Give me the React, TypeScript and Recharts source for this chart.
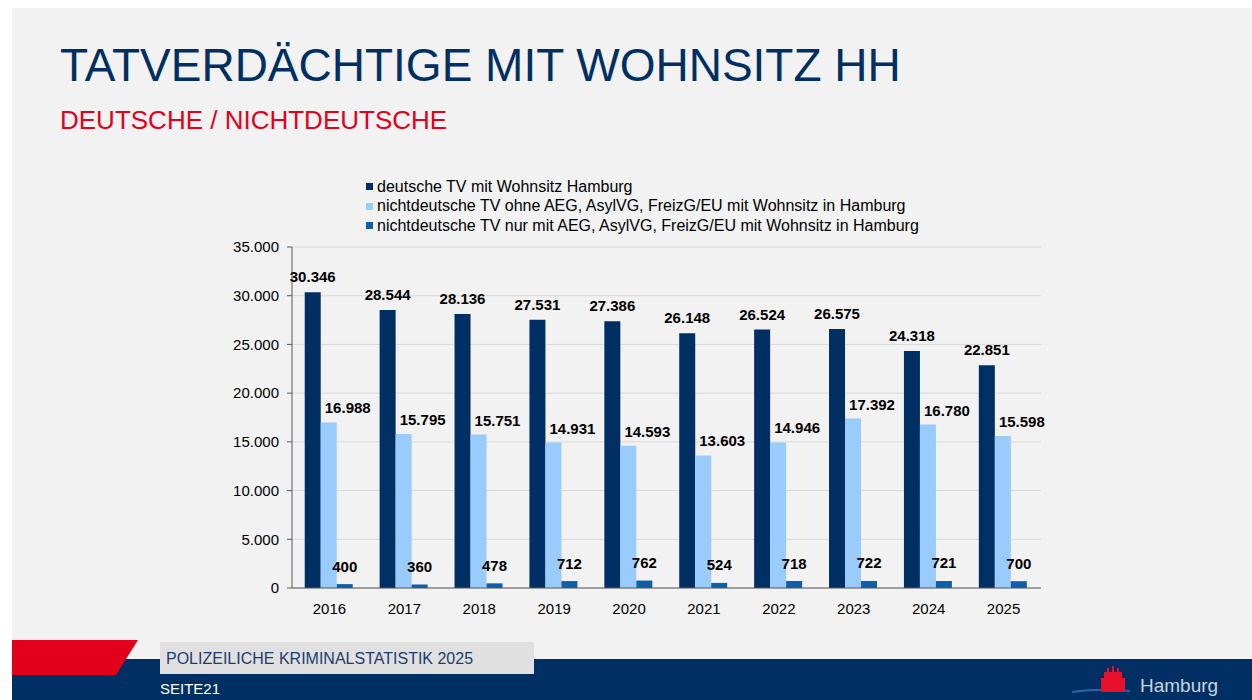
import React from 'react'
import { BarChart, Bar, XAxis, YAxis, CartesianGrid, Legend, LabelList } from 'recharts'

const years = ['2016', '2017', '2018', '2019', '2020', '2021', '2022', '2023', '2024', '2025']
const deutsche = [30346, 28544, 28136, 27531, 27386, 26148, 26524, 26575, 24318, 22851]
const nichtdeutscheOhne = [16988, 15795, 15751, 14931, 14593, 13603, 14946, 17392, 16780, 15598]
const nichtdeutscheNur = [400, 360, 478, 712, 762, 524, 718, 722, 721, 700]
const yTicks = [0, 5000, 10000, 15000, 20000, 25000, 30000, 35000]

const seriesNames = [
  'deutsche TV mit Wohnsitz Hamburg',
  'nichtdeutsche TV ohne AEG, AsylVG, FreizG/EU mit Wohnsitz in Hamburg',
  'nichtdeutsche TV nur mit AEG, AsylVG, FreizG/EU mit Wohnsitz in Hamburg',
]

const NAVY = '#002f63'
const LIGHT = '#99cbfd'
const MID = '#0f5ea8'
const RED = '#e2001a'
const FONT = '"Liberation Sans", Arial, sans-serif'

const data = years.map((year, i) => ({
  year,
  deutsche: deutsche[i],
  ohne: nichtdeutscheOhne[i],
  nur: nichtdeutscheNur[i],
}))

const fmt = (v: number) => String(v).replace(/\B(?=(\d{3})+(?!\d))/g, '.')

// labels sit a bit off the bars, as in the original slide
const makeLabel = (dx: number, lift: number) => (props: any) => {
  const vb = props.viewBox ?? props
  const x = Number(vb.x ?? props.x)
  const y = Number(vb.y ?? props.y)
  const w = Number(vb.width ?? props.width)
  return (
    <text
      x={x + w / 2 + dx}
      y={y - lift}
      textAnchor="middle"
      fontFamily={FONT}
      fontSize={15}
      fontWeight="bold"
      fill="#000"
    >
      {fmt(Number(props.value))}
    </text>
  )
}

const renderLegend = () => {
  const colors = [NAVY, LIGHT, MID]
  return (
    <div style={{ fontFamily: FONT, fontSize: 16, color: '#000' }}>
      {seriesNames.map((name, i) => (
        <div key={name} style={{ display: 'flex', alignItems: 'center', height: 19.5, whiteSpace: 'nowrap' }}>
          <span style={{ display: 'inline-block', width: 7, height: 7, background: colors[i], marginRight: 4 }} />
          {name}
        </div>
      ))}
    </div>
  )
}

export default function App() {
  return (
    <div
      style={{
        position: 'absolute',
        left: 0,
        top: 0,
        width: 1252,
        height: 700,
        background: '#fff',
        overflow: 'hidden',
        fontFamily: FONT,
      }}
    >
      <div style={{ position: 'absolute', left: 12, top: 8, width: 1240, height: 692, background: '#f2f2f2' }} />
      <div
        style={{
          position: 'absolute',
          left: 60,
          top: 38,
          fontSize: 46,
          color: NAVY,
          lineHeight: '54px',
          whiteSpace: 'nowrap',
        }}
      >
        TATVERDÄCHTIGE MIT WOHNSITZ HH
      </div>
      <div
        style={{
          position: 'absolute',
          left: 60,
          top: 105,
          fontSize: 26,
          color: RED,
          lineHeight: '30px',
          whiteSpace: 'nowrap',
        }}
      >
        DEUTSCHE / NICHTDEUTSCHE
      </div>

      <div style={{ position: 'absolute', left: 0, top: 0 }}>
        <BarChart
          width={1100}
          height={640}
          data={data}
          margin={{ top: 247, right: 59, bottom: 12, left: 222 }}
          barCategoryGap="17%"
          barGap={0}
        >
          <CartesianGrid vertical={false} stroke="#d9d9d9" />
          <XAxis
            dataKey="year"
            height={40}
            tickLine={false}
            axisLine={{ stroke: '#595959' }}
            tickMargin={9}
            tick={{ fontFamily: FONT, fontSize: 15, fill: '#000' }}
          />
          <YAxis
            width={70}
            domain={[0, 35000]}
            ticks={yTicks}
            tickFormatter={fmt}
            tickSize={5}
            tickMargin={8}
            axisLine={{ stroke: '#595959' }}
            tickLine={{ stroke: '#595959' }}
            tick={{ fontFamily: FONT, fontSize: 15, fill: '#000' }}
          />
          <Legend
            layout="vertical"
            align="center"
            verticalAlign="middle"
            content={renderLegend}
            wrapperStyle={{ position: 'absolute', top: 177, left: 366, width: 'auto', height: 'auto' }}
          />
          <Bar dataKey="deutsche" name={seriesNames[0]} fill={NAVY} isAnimationActive={false}>
            <LabelList dataKey="deutsche" content={makeLabel(0, 10)} />
          </Bar>
          <Bar dataKey="ohne" name={seriesNames[1]} fill={LIGHT} isAnimationActive={false}>
            <LabelList dataKey="ohne" content={makeLabel(19, 9)} />
          </Bar>
          <Bar dataKey="nur" name={seriesNames[2]} fill={MID} isAnimationActive={false}>
            <LabelList dataKey="nur" content={makeLabel(0, 12.5)} />
          </Bar>
        </BarChart>
      </div>

      <svg width={1252} height={700} style={{ position: 'absolute', left: 0, top: 0, pointerEvents: 'none' }}>
        <rect x={12} y={659} width={1240} height={41} fill="#003063" />
        <polygon points="12,640 138,640 116,675 12,675" fill={RED} />
        <rect x={160} y={642} width={374} height={32} fill="#e0e0e0" />
        <text x={166} y={664} fontFamily={FONT} fontSize={16} fill="#1d3c6e">
          POLIZEILICHE KRIMINALSTATISTIK 2025
        </text>
        <text x={160} y={694} fontFamily={FONT} fontSize={15} fill="#fff">
          SEITE21
        </text>
        <path d="M1072,692 Q1100,688 1130,691" stroke="#2a64a8" strokeWidth={2} fill="none" />
        <polygon
          points="1101,692 1101,678 1104,678 1104,672 1107,672 1107,668 1109,668 1109,672 1112,672 1112,666 1114,666 1114,672 1117,672 1117,668 1119,668 1119,672 1122,672 1122,678 1125,678 1125,692"
          fill="#e8102a"
        />
        <text x={1140} y={692} fontFamily={FONT} fontSize={19} fill="#c9d3df">
          Hamburg
        </text>
      </svg>
    </div>
  )
}
